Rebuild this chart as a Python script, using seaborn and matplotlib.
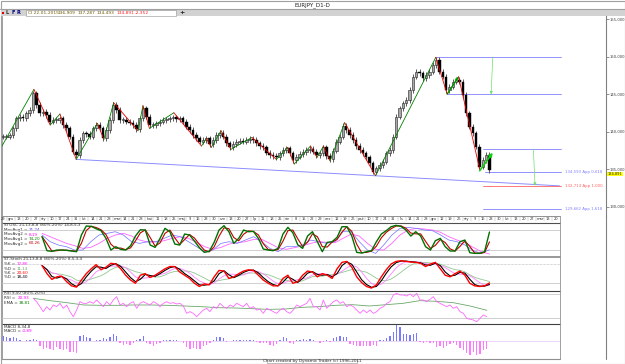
import numpy as np
import pandas as pd
import matplotlib
matplotlib.use("Agg")
import matplotlib.pyplot as plt
import seaborn as sns

sns.set_theme(style="white")
plt.rcParams['font.family'] = ['DejaVu Sans']

# ---------------- data ----------------
START = "2013-11-29"          # first bar (business-day index 0)
LAST_BAR = "2015-01-22"
OSC_START = "2014-01-02"      # first point drawn by the oscillators

CLOSES = [
    139.33, 139.33, 139.50, 140.44, 141.78, 142.00, 141.78, 142.44, 142.89, 145.11,
    143.56, 142.44, 142.67, 142.22, 141.33, 141.56, 141.56, 141.78, 140.89, 140.44,
    139.33, 137.33, 136.89, 138.89, 139.78, 139.69, 139.33, 140.44, 140.89, 140.44,
    139.11, 140.22, 141.56, 143.56, 142.89, 141.56, 141.56, 141.33, 141.20, 140.89,
    140.31, 141.78, 143.11, 142.00, 140.89, 140.89, 141.11, 141.33, 141.56, 141.64,
    141.78, 141.91, 141.64, 141.78, 141.33, 140.67, 140.22, 139.56, 139.11, 138.67,
    138.89, 139.11, 138.36, 138.89, 139.56, 139.87, 139.33, 138.44, 137.91, 138.36,
    138.67, 138.80, 138.67, 138.89, 139.07, 138.89, 138.44, 138.09, 137.91, 137.20,
    136.89, 136.76, 136.58, 137.11, 137.56, 137.78, 137.11, 136.22, 136.67,
    137.02, 137.29, 137.56, 137.73, 137.33, 136.89, 137.11, 137.91, 136.76, 136.31,
    137.47, 138.67, 139.33, 140.76, 140.22, 139.56, 138.89, 138.09, 137.56, 137.11,
    136.58, 135.78, 134.67, 135.11, 135.56, 136.00, 137.11, 137.56, 139.33, 142.00,
    143.11, 143.78, 144.22, 145.56, 147.33, 148.00, 147.78, 147.11, 147.56, 148.00,
    148.89, 149.56, 148.00, 147.33, 145.56, 146.00, 146.67, 146.89, 146.67, 144.89,
    142.44, 140.67, 139.78, 138.00, 135.33, 136.22, 136.89, 134.89,
]

PIVOT_DATES = ["2013-11-27", "2013-12-26", "2014-01-09", "2014-01-17", "2014-01-31",
               "2014-02-19", "2014-02-25", "2014-03-05", "2014-03-26", "2014-03-31",
               "2014-04-04", "2014-04-25", "2014-05-20", "2014-05-23", "2014-05-28",
               "2014-06-05", "2014-06-13", "2014-07-02", "2014-07-23", "2014-08-01",
               "2014-08-07", "2014-08-21", "2014-08-27", "2014-09-02", "2014-09-08",
               "2014-09-19", "2014-10-16", "2014-12-08", "2014-12-17", "2014-12-26",
               "2015-01-14"]
PIVOT_PRICES = [137.56, 145.64, 140.89, 142.36, 136.31,
                141.11, 138.98, 143.87, 140.13, 143.47,
                140.44, 142.53, 138.09, 139.11, 137.91,
                140.13, 137.64, 139.24, 136.31, 137.91,
                135.69, 138.09, 136.58, 138.09, 136.13,
                141.20, 134.13, 149.91, 145.02, 147.33,
                134.98]

TREND_DATES = ["2014-01-31", "2015-03-24"]
TREND_PRICES = [136.31, 132.78]

LEVELS = [149.91, 144.98, 137.64, 134.593, 132.713, 129.662]
LEVEL_START = ["2014-12-08", "2014-12-17", "2015-01-16", "2015-01-19", "2015-01-16", "2015-01-16"]
LEVEL_END = "2015-03-25"
LEVEL_LABELS = ["", "", "", "134,593 App 0,618", "132,713 App 1,000", "129,662 App 1,618"]

PROJ_ARROWS = [(("2015-01-26", 149.91), ("2015-01-23", 144.98)),
               (("2015-03-02", 137.64), ("2015-03-03", 132.80))]
BOLD_ARROW = (("2015-01-14", 134.80), ("2015-01-26", 137.20))

RIGHT_TICKS = [155, 150, 145, 140, 135, 130]
LAST_PRICE = 134.891

HEADER = ["Cl 22-01-2015", "136,909", "137,287", "134,493", "134,891", "-2,352"]

# Stochastic panel 1 -- fast line, one value every 3 bars
STO1_FAST = [60, 18, 16, 20, 20, 19, 17, 15, 65, 92, 91, 84, 78, 55, 20, 30, 22, 20, 33, 62,
             81, 80, 35, 28, 55, 85, 75, 38, 35, 68, 65, 47, 27, 13, 16, 43, 80, 93, 75, 40,
             55, 80, 75, 76, 55, 23, 20, 18, 25, 68, 88, 72, 36, 25, 62, 75, 45, 15, 43, 45,
             58, 90, 90, 62, 13, 11, 15, 18, 45, 68, 78, 90, 94, 91, 80, 62, 75, 62, 30, 20,
             48, 55, 30, 17, 17, 45, 50, 12, 10, 10, 15, 74]
# Stochastic panel 1 -- slow stochastic pair, one value per week
STO1_SLOW_K = [65, 45, 35, 30, 20, 20, 45, 65, 70, 75, 65, 45, 40, 45, 45, 55, 65, 60, 45, 30,
               15, 20, 40, 45, 40, 50, 60, 45, 25, 15, 30, 30, 35, 50, 45, 40, 45, 75, 75, 45,
               20, 10, 35, 65, 85, 88, 85, 80, 78, 65, 50, 45, 35, 18, 10, 21]
STO1_SLOW_D = [70, 60, 50, 40, 33, 25, 28, 40, 55, 65, 70, 62, 50, 44, 44, 48, 55, 60, 55, 43,
               30, 22, 28, 38, 42, 45, 52, 52, 40, 27, 22, 27, 32, 40, 45, 43, 42, 55, 68, 62,
               40, 22, 20, 40, 65, 80, 85, 83, 80, 73, 60, 50, 42, 28, 15, 8]
# Stochastic panel 2 -- %K, one value every 3 bars
STO2_K = [75, 50, 32, 40, 42, 25, 12, 8, 30, 50, 65, 78, 62, 70, 82, 80, 65, 45, 30, 20,
          45, 50, 38, 45, 55, 65, 72, 72, 55, 45, 35, 20, 10, 18, 15, 40, 60, 58, 35, 40,
          50, 58, 62, 60, 45, 30, 20, 12, 12, 35, 45, 20, 25, 45, 58, 55, 40, 50, 45, 35,
          65, 85, 88, 70, 40, 22, 10, 5, 15, 40, 62, 80, 88, 90, 88, 86, 85, 82, 72, 80,
          85, 65, 45, 40, 50, 58, 45, 20, 12, 10, 12, 21]

RSI = [69.6, 61.1, 48.3, 35.5, 48.3, 39.7, 52.6, 48.3, 56.8, 44.0,
       52.6, 35.5, 22.6, 39.7, 61.1, 56.8, 56.8, 61.1, 56.8, 65.4,
       56.8, 48.3, 61.1, 52.6, 65.4, 73.9, 52.6, 56.8, 48.3, 56.8,
       61.1, 44.0, 56.8, 61.1, 56.8, 52.6, 61.1, 56.8, 48.3, 56.8,
       61.1, 56.8, 58.5, 55.1, 56.8, 50.0, 31.2, 35.5, 31.2, 22.6,
       31.2, 39.7, 44.0, 35.5, 48.3, 44.0, 56.8, 48.3, 44.0, 52.6,
       48.3, 56.8, 52.6, 48.3, 56.8, 44.0, 48.3, 39.7, 41.4, 31.2,
       44.0, 39.7, 35.5, 31.2, 39.7, 44.0, 35.5, 31.2, 39.7, 52.6,
       48.3, 52.6, 56.8, 69.6, 48.3, 48.3, 39.7, 65.4, 44.0, 52.6,
       61.1, 65.4, 56.8, 61.1, 48.3, 52.6, 48.3, 39.7, 31.2, 39.7,
       32.9, 39.7, 31.2, 35.5, 44.0, 48.3, 56.8, 61.1, 78.2, 82.5,
       78.2, 78.2, 75.6, 80.8, 73.9, 82.5, 65.4, 65.4, 61.1, 67.1,
       73.9, 61.1, 56.8, 52.6, 48.3, 52.6, 44.0, 48.3, 35.5, 31.2,
       18.4, 15.8, 14.1, 9.8, 18.4, 26.9, 22.6]
RSI_EMA = [69.6, 63.7, 58.5, 52.6, 51.7, 51.7, 52.6, 52.6, 51.7, 50.0,
           48.3, 45.7, 44.9, 43.2, 41.4, 42.3, 46.6, 48.3, 51.7, 53.4,
           50.0, 53.4, 56.8, 63.7, 61.9, 58.5, 50.0, 38.9]

MACD_HIST = [0.35, 0.3, 0.2, 0.25, 0.2, 0.05, 0.03, 0.05, 0.05, 0.15,
             0.1, -0.3, -0.5, -0.45, -0.5, -0.6, -0.4, -0.55, -0.6, -0.5,
             -0.7, -0.75, -0.8, 0.35, 0.4, 0.3, 0.2, 0.02, 0.05, 0.1,
             0.2, 0.15, 0.3, 0.45, 0.35, -0.15, -0.25, -0.2, -0.25, -0.15,
             0.05, 0.15, 0.35, -0.1, -0.2, -0.3, -0.2, -0.1, 0.05, 0.1,
             0.05, 0.08, 0.05, 0.02, -0.1, -0.4, -0.5, -0.45, -0.55, -0.5,
             -0.35, -0.25, -0.15, 0.1, 0.25, 0.3, 0.2, -0.05, -0.03, 0.05,
             0.1, 0.08, 0.1, 0.05, 0.1, 0.05, -0.05, -0.1, -0.15, -0.1,
             -0.25, -0.3, -0.2, 0.05, 0.25, 0.2, -0.15, -0.2, 0.05,
             0.1, 0.15, 0.1, 0.12, 0.05, -0.02, -0.1, -0.05, 0.05, -0.05,
             0.2, 0.3, 0.35, 0.3, 0.25, -0.2, -0.25, -0.3, -0.35, -0.3,
             -0.3, -0.35, -0.25, -0.3, 0.05, 0.1, 0.2, 0.35, 0.6, 1.05,
             0.95, 0.5, 0.45, 0.4, 0.5, 0.55, -0.05, -0.1, -0.08, -0.15,
             -0.1, -0.4, -0.35, -0.45, -0.3, -0.2, -0.1, -0.25, -0.45, -0.6,
             -0.8, -0.95, -0.7, -0.9, -0.85, -0.6, -0.5]

PL_MONTHS = ['sty', 'lut', 'mar', 'kwi', 'maj', 'cze', 'lip', 'sie', 'wrz', 'paź', 'lis', 'gru']

# ---------------- helpers ----------------
W, H = 625, 364
PX_PER_BAR = 1.627
X0 = 3.0


def bidx(d):
    return int(np.busday_count(np.datetime64(START), np.datetime64(d)))


def px_to_idx(x):
    return (x - X0) / PX_PER_BAR


fig = plt.figure(figsize=(W / 100, H / 100), dpi=100, facecolor="white")


def ax_px(x0, y0, x1, y1, z=1):
    a = fig.add_axes([x0 / W, 1 - y1 / H, (x1 - x0) / W, (y1 - y0) / H])
    a.set_facecolor("none")
    a.set_zorder(z)
    for s in a.spines.values():
        s.set_visible(False)
    a.set_xticks([])
    a.set_yticks([])
    return a


ov = fig.add_axes([0, 0, 1, 1])
ov.set_xlim(0, W)
ov.set_ylim(H, 0)
ov.axis("off")
ov.set_zorder(0)

GRAY = "#a0a0a0"
ov.add_patch(plt.Rectangle((0.5, 0.5), W - 1, H - 1, fill=False, ec=GRAY, lw=0.8))
ov.plot([0, W], [9, 9], color=GRAY, lw=0.8)
ov.add_patch(plt.Rectangle((0.5, 9.5), W - 1, 6.5, fc="#d2d2d2", ec="none"))
ov.add_patch(plt.Rectangle((26, 10.3), 150, 5.2, fc="white", ec="#909090", lw=0.4))
ov.text(312, 4.8, "EURJPY_D1-D", fontsize=4, ha="center", va="center", color="#202020")
ov.add_patch(plt.Rectangle((1.5, 11.5), 2, 2.5, fc="#dd0000", ec="none"))
for xx, ch, c in [(7, "L", "#303030"), (13, "F", "#000080"), (18.5, "R", "#000080")]:
    ov.text(xx, 13, ch, fontsize=3.6, ha="center", va="center", color=c, fontweight="bold")
hx = [28, 58, 78, 97, 117, 135]
hc = ["#6b5a00", "#6b5a00", "#6b5a00", "#6b5a00", "#ff2020", "#ff2020"]
for xx, t, c in zip(hx, HEADER, hc):
    ov.text(xx, 13, t, fontsize=3.2, ha="left", va="center", color=c)
ov.text(182, 12.8, "+", fontsize=4.5, ha="center", va="center", color="#202020", fontweight="bold")

# ---------------- price panel ----------------
axp = ax_px(2, 16, 606, 216)
axp.set_xlim(px_to_idx(2), px_to_idx(606))
p_lo = 130 + (206.7 - 216) / 7.5
p_hi = 130 + (206.7 - 16) / 7.5
axp.set_ylim(p_lo, p_hi)

n = len(CLOSES)
idx = np.linspace(0, bidx(LAST_BAR), n)
closes = np.array(CLOSES)
opens = np.r_[closes[0], closes[:-1]]
wick = 0.35
highs = np.maximum(opens, closes) + wick
lows = np.minimum(opens, closes) - wick
axp.vlines(idx, lows, highs, color="#404040", lw=0.6, zorder=2)
up = closes >= opens
body_h = np.maximum(np.abs(closes - opens), 0.12)
axp.bar(idx[~up], body_h[~up], bottom=np.minimum(opens, closes)[~up], width=1.6,
        color="#000000", edgecolor="#000000", lw=0.3, zorder=3)
axp.bar(idx[up], body_h[up], bottom=np.minimum(opens, closes)[up], width=1.6,
        color="#a8a8a8", edgecolor="#202020", lw=0.4, zorder=3)

pv_x = [bidx(d) for d in PIVOT_DATES]
for i in range(len(pv_x) - 1):
    c = "#008000" if PIVOT_PRICES[i + 1] > PIVOT_PRICES[i] else "#ee0000"
    axp.plot(pv_x[i:i + 2], PIVOT_PRICES[i:i + 2], color=c, lw=0.6, zorder=4)

sns.lineplot(x=[bidx(d) for d in TREND_DATES], y=TREND_PRICES, ax=axp, color="#8c8cff", lw=0.7, zorder=1)

for lv, ls, lab in zip(LEVELS, LEVEL_START, LEVEL_LABELS):
    col = "#ff6060" if "1,000" in lab else "#8080ff"
    axp.plot([bidx(ls), bidx(LEVEL_END)], [lv, lv], color=col, lw=0.6, zorder=1)
    if lab:
        axp.text(px_to_idx(565), lv, lab, fontsize=2.8, color=col, va="center", ha="left")

for (d0, p0), (d1, p1) in PROJ_ARROWS:
    axp.annotate("", xy=(bidx(d1), p1), xytext=(bidx(d0), p0),
                 arrowprops=dict(arrowstyle="-|>", color="#70e070", lw=0.5,
                                 mutation_scale=4, shrinkA=0, shrinkB=0))
(d0, p0), (d1, p1) = BOLD_ARROW
axp.annotate("", xy=(bidx(d1), p1), xytext=(bidx(d0), p0),
             arrowprops=dict(arrowstyle="-|>", color="#10d010", lw=1.2,
                             mutation_scale=5, shrinkA=0, shrinkB=0))
axp.annotate("", xy=(bidx("2014-12-26"), 147.33), xytext=(bidx("2014-12-17"), 145.02),
             arrowprops=dict(arrowstyle="-|>", color="#10c010", lw=1.0,
                             mutation_scale=4, shrinkA=0, shrinkB=0))

axp.spines["right"].set_visible(True)
axp.spines["right"].set_color("#808080")
axp.spines["right"].set_linewidth(0.8)
axp.yaxis.tick_right()
axp.set_yticks(RIGHT_TICKS)
axp.set_yticklabels([f"{t},000" for t in RIGHT_TICKS])
axp.tick_params(axis="y", labelsize=2.7, pad=0.5, length=2, width=0.4,
                colors="#404040", direction="out")
ov.text(607.5, 174.2, f"{LAST_PRICE:.3f}".replace(".", ","), fontsize=2.6, va="center", ha="left",
        zorder=5, bbox=dict(boxstyle="square,pad=0.08", fc="#ffff00", ec="none"))

ov.plot([606, 606], [216, 358.5], color="#808080", lw=0.8)

# ---------------- date row ----------------
LOW_X1 = 560
axd = ax_px(2, 216, LOW_X1, 222)
axd.set_xlim(px_to_idx(2), px_to_idx(LOW_X1))
axd.set_ylim(0, 1)
ov.plot([2, LOW_X1], [216, 216], color="#808080", lw=0.6)
ov.plot([2, LOW_X1], [222.5, 222.5], color="#505050", lw=0.8)
fridays = pd.date_range(START, "2015-03-20", freq="W-FRI")
for k, d in enumerate(fridays):
    lab = PL_MONTHS[d.month - 1] if (d.day <= 7 and k > 0) else str(d.day)
    xi = bidx(d.strftime("%Y-%m-%d"))
    axd.text(xi, 0.45, lab, fontsize=2.6, ha="center", va="center", color="#303030")
    axd.plot([xi - 2.5, xi - 2.5], [0.15, 0.8], color="#a0a0a0", lw=0.3)


# ---------------- indicator panels ----------------
def panel(y0, y1, lo, hi):
    a = ax_px(2, y0, LOW_X1, y1)
    a.set_xlim(px_to_idx(2), px_to_idx(LOW_X1))
    a.set_ylim(lo, hi)
    return a


osc0, osc1 = bidx(OSC_START), bidx(LAST_BAR)

ax1 = panel(223, 256.5, (256.7 - 256.5) * 3, (256.7 - 223) * 3)
for lv in (80, 20):
    ax1.axhline(lv, color="#c8c8c8", lw=0.6, zorder=0)
fidx = np.linspace(osc0, osc1, len(STO1_FAST))
widx = np.linspace(osc0, osc1, len(STO1_SLOW_K))
fast = pd.Series(STO1_FAST, dtype=float)
sns.lineplot(x=widx, y=STO1_SLOW_D, ax=ax1, color="#ff66ff", lw=0.6)
sns.lineplot(x=widx, y=STO1_SLOW_K, ax=ax1, color="#7070ff", lw=0.5)
sns.lineplot(x=fidx, y=fast.rolling(2, min_periods=1).mean(), ax=ax1, color="#c00000", lw=0.8)
sns.lineplot(x=fidx, y=fast, ax=ax1, color="#007000", lw=1.0)

ax2 = panel(257.5, 290.5, (289.7 - 290.5) * 3.11, (289.7 - 257.5) * 3.11)
ax2.axhline(80, color="#b0b0b0", lw=0.5, ls=(0, (1, 1)), zorder=0)
ax2.axhline(20, color="#c8c8c8", lw=0.6, zorder=0)
k2 = pd.Series(STO2_K, dtype=float)
kidx = np.linspace(osc0, osc1, len(STO2_K))
sns.lineplot(x=kidx, y=k2.rolling(7, min_periods=1).mean(), ax=ax2, color="#90c890", lw=0.6)
sns.lineplot(x=kidx, y=k2.rolling(4, min_periods=1).mean(), ax=ax2, color="#ff80ff", lw=0.6)
sns.lineplot(x=kidx, y=k2.rolling(2, min_periods=1).mean(), ax=ax2, color="#000000", lw=0.8)
sns.lineplot(x=kidx, y=k2, ax=ax2, color="#ff0000", lw=1.0)

ax3 = panel(291, 323.5, 20 + (317.7 - 323.5) * 2.564, 20 + (317.7 - 291) * 2.564)
for lv in (80, 20):
    ax3.axhline(lv, color="#c8c8c8", lw=0.6, zorder=0)
ridx = np.linspace(px_to_idx(33.3), px_to_idx(486.7), len(RSI))
eidx = np.linspace(px_to_idx(33.3), px_to_idx(486.9), len(RSI_EMA))
sns.lineplot(x=eidx, y=RSI_EMA, ax=ax3, color="#6aa86a", lw=0.6)
sns.lineplot(x=ridx, y=RSI, ax=ax3, color="#ff66ff", lw=0.6)

ax4 = panel(324, 358.5, -(358.5 - 341) / 15, (341 - 324) / 15)
midx = np.linspace(px_to_idx(3.3), px_to_idx(486.7), len(MACD_HIST))
mh = np.array(MACD_HIST)
ax4.bar(midx, mh, width=0.9, color=np.where(mh >= 0, "#7a7aff", "#ff7aff"), lw=0)
ax4.axhline(0, color="#d8b8f0", lw=0.4, zorder=0)

ov.plot([2, LOW_X1], [256.8, 256.8], color="#909090", lw=1.3)
ov.plot([2, LOW_X1], [290.8, 290.8], color="#404040", lw=0.8)
ov.plot([2, LOW_X1], [323.6, 323.6], color="#404040", lw=0.8)
ov.plot([2, LOW_X1], [358.6, 358.6], color="#909090", lw=0.8)
ov.plot([LOW_X1, LOW_X1], [216, 358.6], color="#909090", lw=0.6)
ov.plot([1.5, 1.5], [16, 358.6], color="#909090", lw=0.6)

fs = 3.0
ov.text(4, 225.5, "STOSC 21,13,8,8 (80%-20%) 14,8,5,3", fontsize=fs, va="center", color="#303030")
for yy, lab, val, c in [(230, "MovAvg1 =", "21,24", "#4040ff"), (234.5, "MovAvg2 =", "8,19", "#ff00ff"),
                        (239, "MovAvg1 =", "74,20", "#008000"), (243.5, "MovAvg2 =", "60,26", "#c00000")]:
    ov.text(4, yy, lab, fontsize=fs, va="center", color="#303030")
    ov.text(29, yy, val, fontsize=fs, va="center", color=c)
ov.text(4, 259.5, "ST-Stoch 21,13,8,8 (80%-20%) 8,5,3,4", fontsize=fs, va="center", color="#303030")
for yy, lab, val, c in [(264, "%K =", "12,86", "#ff00ff"), (268.5, "%D =", "11,13", "#60a060"),
                        (273, "%K =", "20,60", "#ff0000"), (277.5, "%D =", "18,40", "#000000")]:
    ov.text(4, yy, lab, fontsize=fs, va="center", color="#303030")
    ov.text(17, yy, val, fontsize=fs, va="center", color=c)
ov.text(4, 293.5, "RSI 9,50 (80%-20%)", fontsize=fs, va="center", color="#303030")
ov.text(4, 298, "RSI =", fontsize=fs, va="center", color="#303030")
ov.text(18, 298, "20,93", fontsize=fs, va="center", color="#ff00ff")
ov.text(4, 302.5, "EMA =", fontsize=fs, va="center", color="#303030")
ov.text(18.5, 302.5, "38,81", fontsize=fs, va="center", color="#008000")
ov.text(4, 326.5, "MACD 8,34,8", fontsize=fs, va="center", color="#303030")
ov.text(4, 331, "MACD =", fontsize=fs, va="center", color="#303030")
ov.text(21.5, 331, "-0,89", fontsize=fs, va="center", color="#ff00ff")

ov.add_patch(plt.Rectangle((267, 358.8), 90, 4.6, fill=False, ec="#909090", lw=0.4))
ov.text(312, 361.2, "Chart created by Dynamic Trader (c) 1996-2011", fontsize=3.0,
        ha="center", va="center", color="#303030")

fig.savefig("out.png", dpi=100, facecolor="white")
